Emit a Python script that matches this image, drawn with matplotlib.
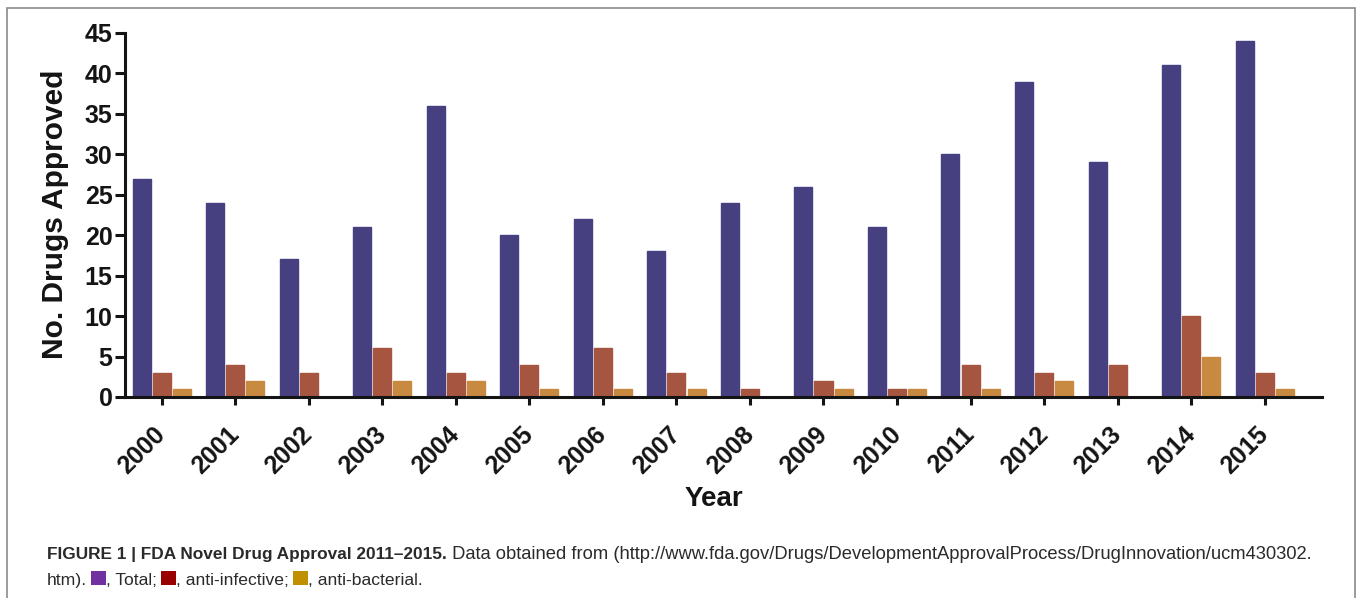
import matplotlib
matplotlib.use("Agg")
import matplotlib.pyplot as plt
import numpy as np
from matplotlib.patches import Rectangle
from matplotlib.transforms import ScaledTranslation

years = ["2000", "2001", "2002", "2003", "2004", "2005", "2006", "2007",
         "2008", "2009", "2010", "2011", "2012", "2013", "2014", "2015"]
total = [27, 24, 17, 21, 36, 20, 22, 18, 24, 26, 21, 30, 39, 29, 41, 44]
anti_infective = [3, 4, 3, 6, 3, 4, 6, 3, 1, 2, 1, 4, 3, 4, 10, 3]
anti_bacterial = [1, 2, 0, 2, 2, 1, 1, 1, 0, 1, 1, 1, 2, 0, 5, 1]
yticks = [0, 5, 10, 15, 20, 25, 30, 35, 40, 45]

series = [total, anti_infective, anti_bacterial]
bar_colors = ["#463F80", "#A65540", "#C88A40"]
legend_colors = ["#7030A0", "#990000", "#C09000"]
legend_names = ["Total", "anti-infective", "anti-bacterial"]

W, H = 1358, 598
fig = plt.figure(figsize=(W / 100, H / 100), dpi=100)
FONT = "Liberation Sans"
INK = "#141414"

# outer border
fig.patches.append(Rectangle((7 / W, -0.05), (1355 - 7) / W, 1.05 - 8 / H,
                             transform=fig.transFigure, fill=False,
                             edgecolor="#8a8a8a", linewidth=1.2))

ax = fig.add_axes([125 / W, 201 / H, (1322 - 125) / W, 364 / H])
x = np.arange(len(years))
bw = 0.245
offs = [-0.273, 0.0, 0.273]
for vals, c, o in zip(series, bar_colors, offs):
    ax.bar(x + o, vals, width=bw, color=c, edgecolor=c, linewidth=1.0, zorder=2)

ax.set_xlim(-0.5, 15.78)
ax.set_ylim(0, 45)
ax.set_yticks(yticks)
ax.set_xticks(x)
ax.set_xticklabels(years, rotation=45, ha="right", va="center", rotation_mode="anchor",
                   fontsize=18, fontweight="bold", family=FONT, color=INK)
shift = ScaledTranslation(5 / 100, 0, fig.dpi_scale_trans)
for lab in ax.get_xticklabels():
    lab.set_transform(lab.get_transform() + shift)
for lab in ax.get_yticklabels():
    lab.set_fontsize(18); lab.set_fontweight("bold"); lab.set_family(FONT); lab.set_color(INK)
ax.tick_params(axis="x", direction="out", length=6, width=2.2, pad=18, color=INK)
ax.tick_params(axis="y", direction="out", length=7, width=2.2, pad=2, color=INK)
for s in ["top", "right"]:
    ax.spines[s].set_visible(False)
for s in ["left", "bottom"]:
    ax.spines[s].set_linewidth(2.2)
    ax.spines[s].set_color(INK)
    ax.spines[s].set_zorder(3)

fig.text(55 / W, 1 - 214 / H, "No. Drugs Approved", rotation=90, ha="center", va="center",
         fontsize=21.5, fontweight="bold", family=FONT, color=INK)
fig.text(714 / W, 1 - 499 / H, "Year", ha="center", va="center",
         fontsize=20, fontweight="bold", family=FONT, color=INK)

# caption
cap_color = "#2a2a2a"
fig.canvas.draw()
renderer = fig.canvas.get_renderer()

def put(xpx, ypx, s, weight="normal", fs=13.25):
    t = fig.text(xpx / W, 1 - ypx / H, s, ha="left", va="baseline", fontsize=fs,
                 fontweight=weight, family=FONT, color=cap_color)
    bb = t.get_window_extent(renderer)
    return xpx + bb.width

xp = put(47, 559, "FIGURE 1 | FDA Novel Drug Approval 2011\u20132015.", "bold", 12.4)
put(xp, 559, " Data obtained from (http://www.fda.gov/Drugs/DevelopmentApprovalProcess/DrugInnovation/ucm430302.")
fs2 = 12.6
xp = put(47, 585, "htm).", fs=fs2) + 4
sq_w, sq_h = 15, 14
for i, (c, n) in enumerate(zip(legend_colors, legend_names)):
    fig.patches.append(Rectangle((xp / W, 1 - 585 / H), sq_w / W, sq_h / H,
                                 transform=fig.transFigure, facecolor=c, edgecolor="none"))
    xp += sq_w
    tail = ", " + n + (";" if i < 2 else ".")
    xp = put(xp, 585, tail, fs=fs2) + (4 if i < 2 else 0)

fig.savefig("out.png", dpi=100)
